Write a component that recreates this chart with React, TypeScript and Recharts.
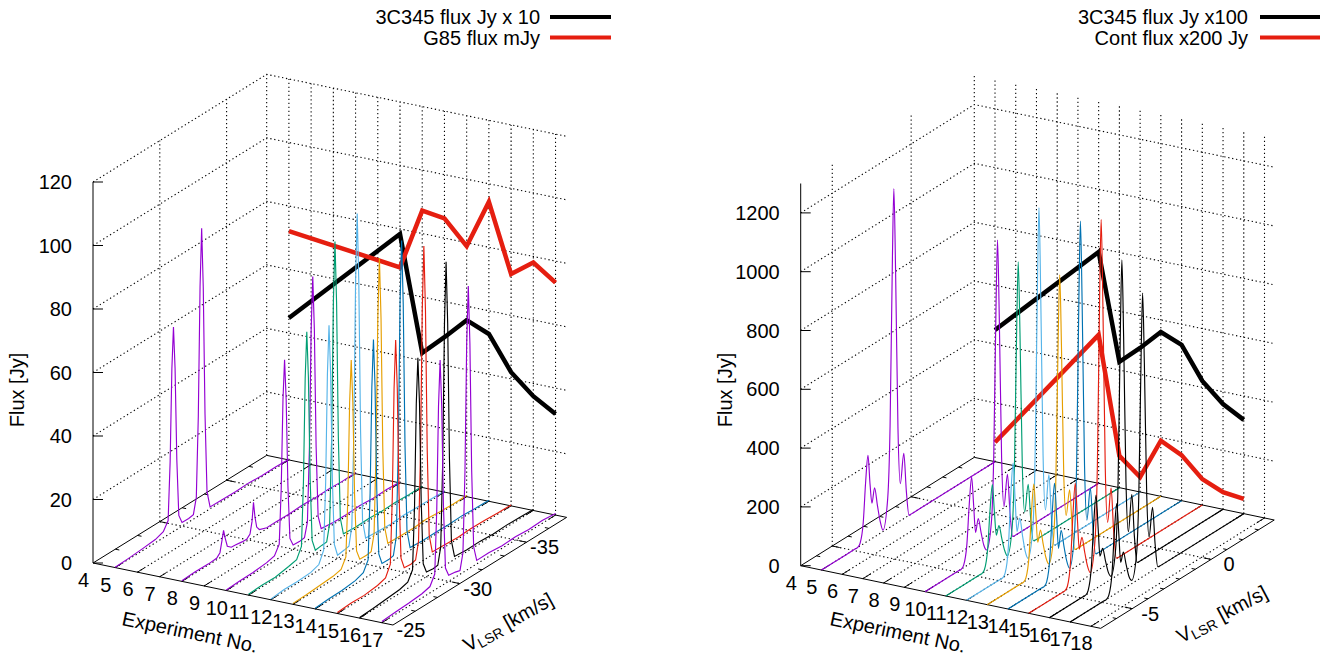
import { Line, LineChart, ReferenceDot, ReferenceLine, XAxis, YAxis } from "recharts"

const WIDTH = 1322
const HEIGHT = 657
const FONT = "'Liberation Sans', Arial, sans-serif"

// left panel (G85), velocity grids in km/s, flux in Jy
const leftVelocity = [
    -25, -26, -27, -28, -28.6, -28.96, -29.11, -29.24, -29.36, -29.48, -29.61, -29.76, -30, -30.5, -30.85,
    -31.07, -31.22, -31.35, -31.47, -31.59, -31.72, -31.87, -32.1, -33, -34, -35, -36, -37, -38,
]
const leftVelocityExp8 = [
    -25, -26, -27, -27.6, -27.85, -28, -28.12, -28.24, -28.4, -28.7, -29, -29.5, -29.85, -30.1, -30.25,
    -30.36, -30.47, -30.6, -30.8, -31.36, -32, -33, -34, -35, -36, -37, -38,
]
const leftExp5 = [0.1, 0.3, 0.6, 1.0, 1.9, 4.5, 22.5, 51.5, 64.4, 51, 22, 4, 1.2, 1.1, 1.4, 6.3, 31.5, 72, 90, 71, 31, 6, 0.6, 0.5, 0.4, 0.6, 0.3, 0.4, 0.2]
const leftExp8 = [0.2, 0.4, 0.3, 0.5, 1.6, 5, 7.9, 5.2, 2.2, 1.1, 1, 0.7, 0.6, 1.6, 5.2, 10.9, 6, 2.5, 1.2, 0.3, 0.4, 0.3, 0.5, 0.3, 0.4, 0.2, 0.3]
const leftExp10 = [0.2, 0.4, 0.5, 0.9, 1.5, 4.3, 21.5, 49, 61.3, 48.5, 21, 4, 1.3, 1.2, 1.4, 5.7, 28.7, 65.6, 82, 65, 28, 5.5, 1.0, 0.6, 0.5, 0.7, 0.4, 0.5, 0.3]
const leftExp11 = [0.3, 0.5, 0.4, 1.2, 1.8, 5, 25, 57.3, 71.6, 57, 24.6, 4.8, 1.1, 1.4, 1.5, 6.6, 33, 75.6, 94.5, 75, 32.6, 6.3, 0.8, 0.5, 0.7, 0.4, 0.6, 0.3, 0.4]
const leftExp12 = [0.2, 0.6, 0.5, 0.8, 1.7, 5.3, 26.3, 60, 75.1, 59.6, 26, 5, 1, 1.3, 1.6, 7.3, 36.7, 83.8, 104.8, 83, 36, 7, 0.9, 0.6, 0.4, 0.7, 0.5, 0.4, 0.3]
const leftExp13 = [0.3, 0.4, 0.7, 1, 1.6, 4.6, 23, 52.5, 65.6, 52, 22.6, 4.4, 1.2, 1.1, 1.3, 6.4, 32.2, 73.7, 92.1, 73, 31.8, 6.2, 0.7, 0.6, 0.5, 0.8, 0.5, 0.3, 0.4]
const leftExp14 = [0.2, 0.5, 0.6, 1.1, 2, 5.1, 25.7, 58.8, 73.5, 58.3, 25.3, 4.9, 1.3, 1.2, 1.5, 6.9, 34.7, 79.4, 99.2, 78.7, 34.3, 6.7, 0.8, 0.5, 0.6, 0.5, 0.7, 0.4, 0.3]
const leftExp15 = [0.3, 0.6, 0.5, 1, 1.8, 5.2, 26.2, 59.8, 74.8, 59.3, 25.8, 5, 1.4, 1.2, 1.6, 6.9, 34.6, 79.1, 98.9, 78.4, 34.2, 6.7, 0.9, 0.7, 0.5, 0.7, 0.6, 0.4, 0.3]
const leftExp16 = [0.2, 0.4, 0.8, 1.2, 1.9, 4.9, 24.7, 56.5, 70.6, 56, 24.4, 4.7, 1.5, 1.2, 1.4, 6.7, 33.4, 76.3, 95.4, 75.7, 33, 6.4, 0.9, 0.6, 0.7, 0.4, 0.6, 0.5, 0.3]
const leftExp17 = [0.4, 0.7, 0.9, 1.3, 2, 5, 25, 57.1, 71.4, 56.6, 24.7, 4.8, 1.9, 1.6, 1.2, 6.2, 31.2, 71.4, 89.2, 70.8, 30.8, 6, 1.1, 1.2, 0.8, 1, 0.7, 0.9, 0.5]

// right panel, velocity grid in km/s
const rightVelocity = [-7, -4.85, -4.7, -4.55, -4.35, -4.2, -4.05, -3.92, -3.8, -3.63, -3.45, -3.28, -3.1, -2.8, -2.65, -2.5, -2.41, -2.3, -2.15, -2, -1.78, -1.62, -1.45, -1.3, -1.15, 4]
const rightExp5 = [0, 0, 0, 9, 73, 204, 291, 189, 120, 167, 100, 42, 5, 103, 343, 915, 1144, 858, 320, 126, 222, 89, 0, 0, 0, 0]
const rightExp10 = [0, 0, 0, 9, 73, 204, 291, 189, 94, 136, 82, 34, 11, 94, 313, 834, 1042, 782, 292, 122, 224, 90, 2, 0, 0, 0]
const rightExp11 = [0, 0, 0, 8, 70, 196, 280, 182, 100, 127, 76, 32, 6, 88, 295, 786, 983, 737, 275, 118, 205, 82, 2, 0, 0, 0]
const rightExp12 = [0, 0, 0, 11, 92, 258, 368, 239, 127, 167, 100, 42, 12, 106, 355, 946, 1182, 887, 331, 140, 252, 101, 2, 0, 0, 0]
const rightExp13 = [0, 0, 0, 9, 78, 218, 311, 202, 105, 141, 85, 35, 8, 87, 290, 774, 968, 726, 271, 136, 216, 86, 2, 0, 0, 0]
const rightExp14 = [0, 0, 0, 10, 82, 230, 329, 214, 99, 155, 93, 39, 8, 105, 350, 933, 1166, 875, 326, 135, 237, 95, 2, 0, 0, 0]
const rightExp15 = [0, 0, 0, 10, 86, 240, 343, 223, 111, 146, 88, 37, 8, 107, 356, 949, 1186, 890, 332, 142, 251, 100, 2, 0, 0, 0]
const rightExp16 = [0, 0, 0, 10, 80, 223, 318, 207, 102, 123, 74, 31, 10, 96, 319, 850, 1063, 797, 298, 125, 244, 98, 2, 0, 0, 0]
const rightExp17 = [0, 0, 0, 9, 76, 213, 304, 198, 96, 125, 75, 31, 11, 87, 290, 772, 965, 724, 270, 122, 215, 86, 2, 0, 0, 0]

// monitoring series drawn on the back wall
const thickExperiments = [5, 10, 11, 12, 13, 14, 15, 16, 17]
const leftBlack = [44.7, 78.4, 42.4, 48.8, 55.6, 52.7, 42.1, 36, 31.8]
const leftRed = [72.1, 67.9, 87.2, 86.2, 78.9, 94.3, 73, 78.1, 73.2]
const rightBlack = [448, 787, 428, 490, 559, 530, 422, 358, 319]
const rightRed = [66, 505, 108, 51, 189, 155, 88, 58, 50]

const PURPLE = "#9400D3"
const GREEN = "#009E73"
const SKY = "#56B4E9"
const ORANGE = "#E69F00"
const BLUE = "#0072B2"
const RED = "#E51E10"
const BLACK = "#000000"

const leftTraces = [
    { exp: 5, color: PURPLE, v: leftVelocity, flux: leftExp5 },
    { exp: 8, color: PURPLE, v: leftVelocityExp8, flux: leftExp8 },
    { exp: 10, color: PURPLE, v: leftVelocity, flux: leftExp10 },
    { exp: 11, color: GREEN, v: leftVelocity, flux: leftExp11 },
    { exp: 12, color: SKY, v: leftVelocity, flux: leftExp12 },
    { exp: 13, color: ORANGE, v: leftVelocity, flux: leftExp13 },
    { exp: 14, color: BLUE, v: leftVelocity, flux: leftExp14 },
    { exp: 15, color: RED, v: leftVelocity, flux: leftExp15 },
    { exp: 16, color: BLACK, v: leftVelocity, flux: leftExp16 },
    { exp: 17, color: PURPLE, v: leftVelocity, flux: leftExp17 },
]

const rightTraces = [
    { exp: 5, color: PURPLE, v: rightVelocity, flux: rightExp5 },
    { exp: 10, color: PURPLE, v: rightVelocity, flux: rightExp10 },
    { exp: 11, color: GREEN, v: rightVelocity, flux: rightExp11 },
    { exp: 12, color: SKY, v: rightVelocity, flux: rightExp12 },
    { exp: 13, color: ORANGE, v: rightVelocity, flux: rightExp13 },
    { exp: 14, color: BLUE, v: rightVelocity, flux: rightExp14 },
    { exp: 15, color: RED, v: rightVelocity, flux: rightExp15 },
    { exp: 16, color: BLACK, v: rightVelocity, flux: rightExp16 },
    { exp: 17, color: BLACK, v: rightVelocity, flux: rightExp17 },
]

// gnuplot style view: each panel has its own axis directions on the page
const leftPanel = {
    id: "left",
    x0: 93, y0: 563, ex: 22.22, ey: 4.593, vx: -13.36, vy: 8.28, zs: 3.175,
    vFront: -25, vBack: -38, eEnd: 17.5, zTop: 120,
    expTicks: [4, 5, 6, 7, 8, 9, 10, 11, 12, 13, 14, 15, 16, 17],
    velTicks: [-25, -30, -35],
    velMinor: [-26.67, -28.33, -31.67, -33.33, -36.67],
    fluxTicks: [0, 20, 40, 60, 80, 100, 120],
    traces: leftTraces,
    smooth: "linear",
    black: leftBlack,
    red: leftRed,
    fluxLabelX: 17,
    expLabel: { x: 190, y: 632, angle: 11.7 },
    velLabel: { x: 508, y: 622, angle: -29 },
    legend: ["3C345 flux Jy x 10", "G85 flux mJy"],
    legendEnd: 540,
    legendLine: [550, 611],
}

const rightPanel = {
    id: "right",
    x0: 800.7, y0: 565.7, ex: 20.73, ey: 4.33, vx: 15.78, vy: -9.85, zs: 0.294,
    vFront: -7, vBack: 4, eEnd: 18.47, zTop: 1300,
    expTicks: [4, 5, 6, 7, 8, 9, 10, 11, 12, 13, 14, 15, 16, 17, 18],
    velTicks: [-5, 0],
    velMinor: [-6, -4, -3, -2, -1, 1, 2, 3],
    fluxTicks: [0, 200, 400, 600, 800, 1000, 1200],
    traces: rightTraces,
    smooth: "monotone",
    black: rightBlack,
    red: rightRed,
    fluxLabelX: 725,
    expLabel: { x: 898, y: 632, angle: 11.7 },
    velLabel: { x: 1222, y: 614, angle: -28 },
    legend: ["3C345 flux Jy x100", "Cont flux x200 Jy"],
    legendEnd: 1248,
    legendLine: [1260, 1320],
}

type Panel = typeof leftPanel
type Pt = { x: number; y: number | null }

function project(p: Panel, exp: number, vel: number, flux: number): Pt {
    return {
        x: p.x0 + (exp - 4) * p.ex + (vel - p.vFront) * p.vx,
        y: p.y0 + (exp - 4) * p.ey + (vel - p.vFront) * p.vy - flux * p.zs,
    }
}

// joins segments into one table, a null y leaves a gap in the line
function joinSegments(segments: Pt[][]): Pt[] {
    const out: Pt[] = []
    segments.forEach((seg) => {
        out.push(...seg)
        out.push({ x: seg[seg.length - 1].x, y: null })
    })
    return out
}

function dottedGrid(p: Panel): Pt[] {
    const segs: Pt[][] = []
    // walls
    p.velTicks.filter((v) => v !== p.vFront).forEach((v) => {
        segs.push([project(p, 4, v, 0), project(p, 4, v, p.zTop)])
    })
    p.expTicks.forEach((e) => {
        segs.push([project(p, e, p.vBack, 0), project(p, e, p.vBack, p.zTop)])
    })
    p.fluxTicks.filter((z) => z > 0).forEach((z) => {
        segs.push([project(p, 4, p.vFront, z), project(p, 4, p.vBack, z), project(p, p.eEnd, p.vBack, z)])
    })
    // floor
    p.expTicks.filter((e) => e > 4).forEach((e) => {
        segs.push([project(p, e, p.vFront, 0), project(p, e, p.vBack, 0)])
    })
    p.velTicks.filter((v) => v !== p.vFront).forEach((v) => {
        segs.push([project(p, 4, v, 0), project(p, p.eEnd, v, 0)])
    })
    return joinSegments(segs)
}

function solidFrame(p: Panel): Pt[] {
    const segs: Pt[][] = [
        [
            project(p, 4, p.vFront, 0),
            project(p, p.eEnd, p.vFront, 0),
            project(p, p.eEnd, p.vBack, 0),
            project(p, 4, p.vBack, 0),
            project(p, 4, p.vFront, 0),
        ],
        [project(p, 4, p.vFront, 0), project(p, 4, p.vFront, p.zTop)],
    ]
    const dirV = p.vBack > p.vFront ? 1 : -1
    p.expTicks.filter((e) => e > 4).forEach((e) => {
        segs.push([project(p, e, p.vFront, 0), project(p, e, p.vFront + dirV * 0.5, 0)])
        segs.push([project(p, e, p.vBack, 0), project(p, e, p.vBack - dirV * 0.5, 0)])
    })
    p.velTicks.filter((v) => v !== p.vFront).forEach((v) => {
        segs.push([project(p, 4, v, 0), project(p, 4.36, v, 0)])
        segs.push([project(p, p.eEnd, v, 0), project(p, p.eEnd - 0.36, v, 0)])
    })
    p.velMinor.forEach((v) => {
        segs.push([project(p, 4, v, 0), project(p, 4.18, v, 0)])
        segs.push([project(p, p.eEnd, v, 0), project(p, p.eEnd - 0.18, v, 0)])
    })
    p.fluxTicks.forEach((z) => {
        const a = project(p, 4, p.vFront, z)
        segs.push([a, { x: a.x + 10, y: a.y }])
    })
    return joinSegments(segs)
}

function traceTable(p: Panel, exp: number, v: number[], flux: number[]): Pt[] {
    return v.map((vel, i) => project(p, exp, vel, flux[i]))
}

function backWallTable(p: Panel, values: number[]): Pt[] {
    return thickExperiments.map((exp, i) => project(p, exp, p.vBack, values[i]))
}

function textAt(key: string, x: number, y: number, body: any, anchor: string, angle = 0) {
    const shape = (props: any) => (
        <text
            x={props.cx}
            y={props.cy}
            textAnchor={anchor}
            dominantBaseline="central"
            fontFamily={FONT}
            fontSize={20}
            fill="#000"
            transform={angle ? `rotate(${angle} ${props.cx} ${props.cy})` : undefined}
        >
            {body}
        </text>
    )
    return <ReferenceDot key={key} x={x} y={y} r={0} ifOverflow="visible" shape={shape} />
}

function plainLine(key: string, data: Pt[], color: string, width: number, extra: any = {}) {
    return (
        <Line
            key={key}
            data={data}
            dataKey="y"
            type="linear"
            stroke={color}
            strokeWidth={width}
            dot={false}
            activeDot={false}
            legendType="none"
            isAnimationActive={false}
            {...extra}
        />
    )
}

function panelLines(p: Panel) {
    const items: any[] = []
    items.push(plainLine(`${p.id}-grid`, dottedGrid(p), "#000000", 1.1, { strokeDasharray: "1.3 2.7" }))
    items.push(plainLine(`${p.id}-frame`, solidFrame(p), "#000000", 1))
    items.push(plainLine(`${p.id}-black`, backWallTable(p, p.black), BLACK, 4.5, { strokeLinejoin: "miter" }))
    items.push(plainLine(`${p.id}-red`, backWallTable(p, p.red), RED, 4.5, { strokeLinejoin: "miter" }))
    p.traces.forEach((t) => {
        items.push(
            plainLine(`${p.id}-exp${t.exp}`, traceTable(p, t.exp, t.v, t.flux), t.color, 1.15, { type: p.smooth })
        )
    })
    return items
}

function panelText(p: Panel) {
    const items: any[] = []
    p.fluxTicks.forEach((z) => {
        const a = project(p, 4, p.vFront, z)
        items.push(textAt(`${p.id}-z${z}`, a.x - 21, a.y as number, String(z), "end"))
    })
    p.expTicks.forEach((e) => {
        const a = project(p, e, p.vFront, 0)
        items.push(textAt(`${p.id}-e${e}`, a.x - 9.5, (a.y as number) + 17, String(e), "middle"))
    })
    p.velTicks.forEach((v) => {
        const a = project(p, p.eEnd, v, 0)
        items.push(textAt(`${p.id}-v${v}`, a.x + 18, (a.y as number) + 5, String(v), "middle"))
    })
    items.push(textAt(`${p.id}-zt`, p.fluxLabelX, 390, "Flux [Jy]", "middle", -90))
    items.push(textAt(`${p.id}-et`, p.expLabel.x, p.expLabel.y, "Experiment No.", "middle", p.expLabel.angle))
    items.push(
        textAt(
            `${p.id}-vt`,
            p.velLabel.x,
            p.velLabel.y,
            <>
                V<tspan fontSize={14} dy={5}>LSR</tspan>
                <tspan dy={-5}> [km/s]</tspan>
            </>,
            "middle",
            p.velLabel.angle
        )
    )
    p.legend.forEach((name, i) => {
        const y = i === 0 ? 17 : 37.5
        items.push(textAt(`${p.id}-key${i}`, p.legendEnd, y, name, "end"))
        items.push(
            <ReferenceLine
                key={`${p.id}-keyline${i}`}
                segment={[
                    { x: p.legendLine[0], y },
                    { x: p.legendLine[1], y },
                ]}
                stroke={i === 0 ? BLACK : RED}
                strokeWidth={4}
                ifOverflow="visible"
            />
        )
    })
    return items
}

function App() {
    return (
        <div style={{ position: "absolute", left: 0, top: 0, width: WIDTH, height: HEIGHT, background: "#fff" }}>
            <LineChart width={WIDTH} height={HEIGHT} margin={{ top: 0, right: 0, bottom: 0, left: 0 }}>
                <XAxis hide type="number" dataKey="x" domain={[0, WIDTH]} allowDataOverflow />
                <YAxis hide type="number" domain={[0, HEIGHT]} reversed allowDataOverflow />
                {panelLines(leftPanel)}
                {panelLines(rightPanel as unknown as Panel)}
                {panelText(leftPanel)}
                {panelText(rightPanel as unknown as Panel)}
            </LineChart>
        </div>
    )
}

export default App
